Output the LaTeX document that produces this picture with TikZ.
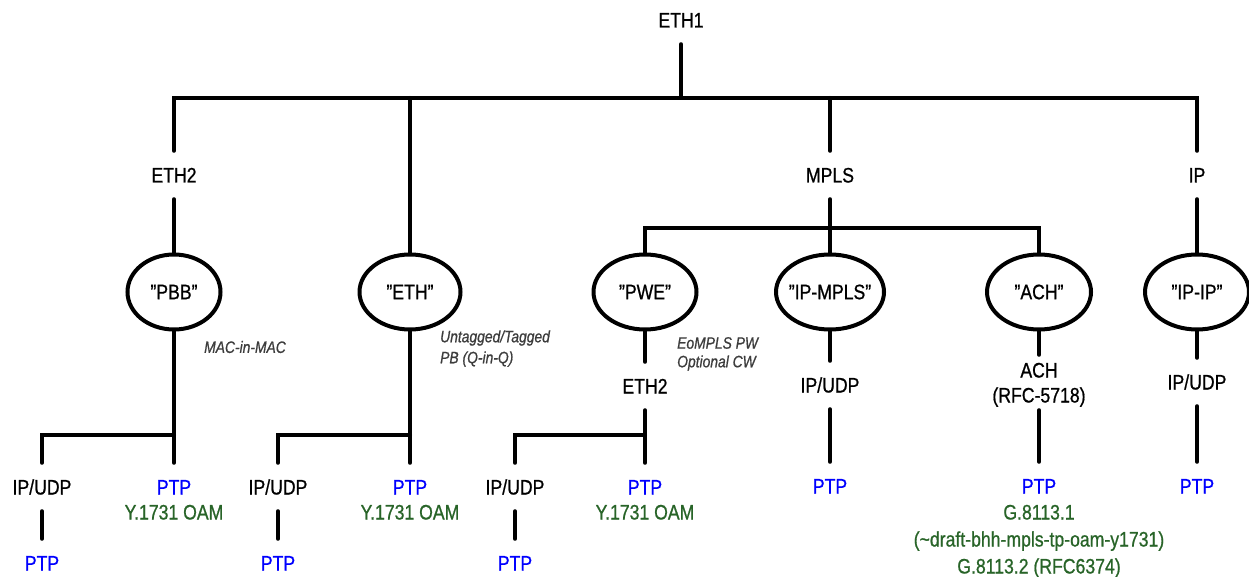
\documentclass[tikz,border=0pt]{standalone}
\usepackage{fontspec}
\setmainfont{Liberation Sans}[Ligatures=ResetAll, FakeStretch=0.84, FakeBold=0.8]
\usetikzlibrary{shapes.geometric}
\definecolor{ptpblue}{RGB}{0,0,255}
\definecolor{oamgreen}{RGB}{40,100,40}
\definecolor{notegray}{RGB}{60,60,60}
\begin{document}
\begin{tikzpicture}[x=1pt,y=-1pt,
  lbl/.style={font=\fontsize{21}{25}\selectfont, text height=15pt, text depth=0pt, inner sep=0pt, minimum height=48pt},
  lblsm/.style={lbl, minimum height=30pt},
  ptp/.style={lbl, text=ptpblue},
  oam/.style={lbl, text=oamgreen},
  oval/.style={ellipse, draw, line width=4pt, inner xsep=-20pt, inner ysep=0pt, minimum height=75pt, font=\fontsize{21}{25}\selectfont},
  note/.style={font=\fontsize{16.5}{20}\selectfont\itshape, text=notegray, anchor=west, inner sep=0pt},
  conn/.style={line width=4pt, line cap=round},
]
\useasboundingbox (0,0) rectangle (1249,577);

% top level
\node[lbl] (eth1) at (681,20) {ETH1};
\node[lbl] (eth2) at (174,175) {ETH2};
\node[lbl] (mpls) at (830,175) {MPLS};
\node[lbl] (ip) at (1197,175) {IP};
\coordinate (topbar) at (681,98);
\coordinate (mplsbar) at (830,228);

% ovals
\node[oval, minimum width=93pt] (pbb) at (174,292) {"PBB"};
\node[oval, minimum width=101pt] (ethq) at (410,292) {"ETH"};
\node[oval, minimum width=103pt] (pwe) at (645,292) {"PWE"};
\node[oval, minimum width=108pt] (ipmpls) at (830,292) {"IP-MPLS"};
\node[oval, minimum width=104pt] (ach) at (1039,292) {"ACH"};
\node[oval, minimum width=104pt] (ipip) at (1197,292) {"IP-IP"};

% third level
\node[lbl] (pweeth) at (645,386) {ETH2};
\node[lbl] (mplsudp) at (830,385) {IP/UDP};
\node[lblsm] (achtxt) at (1039,370) {ACH};
\node[lblsm] (achrfc) at (1039,395) {(RFC-5718)};
\node[lbl] (ipudp) at (1197,382) {IP/UDP};

% notes
\node[note] (nmac) at (204,347) {MAC-in-MAC};
\node[note] (nun) at (440,338) {Untagged/Tagged};
\node[note] (npb) at (440,359) {PB (Q-in-Q)};
\node[note] (neo) at (677,343) {EoMPLS PW};
\node[note] (nopt) at (677,363) {Optional CW};

% branch A (PBB)
\node[lbl] (audp) at (42,487) {IP/UDP};
\node[ptp] (aptp) at (174,487) {PTP};
\node[oam] (aoam) at (174,512) {Y.1731 OAM};
\node[ptp] (aptp2) at (42,563) {PTP};
\coordinate (ja) at (174,435);
% branch B (ETH)
\node[lbl] (budp) at (278,487) {IP/UDP};
\node[ptp] (bptp) at (410,487) {PTP};
\node[oam] (boam) at (410,512) {Y.1731 OAM};
\node[ptp] (bptp2) at (278,563) {PTP};
\coordinate (jb) at (410,435);
% branch C (PWE)
\node[lbl] (cudp) at (515,487) {IP/UDP};
\node[ptp] (cptp) at (645,487) {PTP};
\node[oam] (coam) at (645,512) {Y.1731 OAM};
\node[ptp] (cptp2) at (515,563) {PTP};
\coordinate (jc) at (645,435);
% others
\node[ptp] (mplsptp) at (830,486) {PTP};
\node[ptp] (achptp) at (1039,486) {PTP};
\node[oam] (g1) at (1039,512) {G.8113.1};
\node[oam] (gdraft) at (1039,539) {(\textasciitilde draft-bhh-mpls-tp-oam-y1731)};
\node[oam] (g2) at (1039,566) {G.8113.2 (RFC6374)};
\node[ptp] (ipptp) at (1197,486) {PTP};

% connectors
\draw[conn] (eth1) -- (topbar);
\draw[conn] (eth2.north) |- (topbar) -| (ip.north);
\draw[conn] (ethq.north) -- (ethq.north |- topbar);
\draw[conn] (mpls.north) -- (mpls.north |- topbar);
\draw[conn] (eth2) -- (pbb);
\draw[conn] (ip) -- (ipip);
\draw[conn] (mpls) -- (ipmpls);
\draw[conn] (pwe.north) |- (mplsbar) -| (ach.north);

\draw[conn] (pbb) -- (aptp);
\draw[conn] (audp.north) |- (ja);
\draw[conn] (audp) -- (aptp2);

\draw[conn] (ethq) -- (bptp);
\draw[conn] (budp.north) |- (jb);
\draw[conn] (budp) -- (bptp2);

\draw[conn] (pwe) -- (pweeth);
\draw[conn] (pweeth) -- (cptp);
\draw[conn] (cudp.north) |- (jc);
\draw[conn] (cudp) -- (cptp2);

\draw[conn] (ipmpls) -- (mplsudp);
\draw[conn] (mplsudp) -- (mplsptp);
\draw[conn] (ach) -- (achtxt);
\draw[conn] (achrfc) -- (achptp);
\draw[conn] (ipip) -- (ipudp);
\draw[conn] (ipudp) -- (ipptp);
\end{tikzpicture}
\end{document}
